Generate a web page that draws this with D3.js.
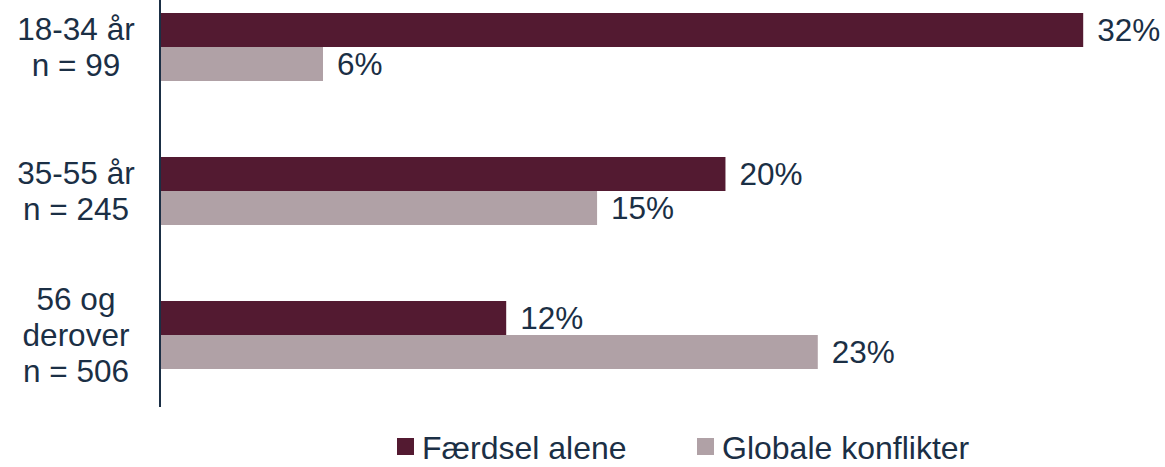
<!DOCTYPE html>
<html>
<head>
<meta charset="utf-8">
<script src="https://cdn.jsdelivr.net/npm/d3@7"></script>
<style>
  body { margin: 0; background: #fff; }
  text { font-family: "Liberation Sans", Arial, sans-serif; fill: #1b2f45; }
</style>
</head>
<body>
<div id="container"></div>
<script>
const categories = [
  ["18-34 år", "n = 99"],
  ["35-55 år", "n = 245"],
  ["56 og", "derover", "n = 506"]
]
const seriesNames = ["Færdsel alene", "Globale konflikter"]
const faerdsel = [32.0, 19.6, 12.0]
const globale = [5.65, 15.15, 22.8]
const colors = ["#531a31", "#b0a1a6"]

const w = 1165
const h = 467
const fs = 31.5

const svg = d3.select("#container")
  .append("svg")
  .attr("width", w)
  .attr("height", h)

const keys = categories.map((c, i) => "c" + i)

const y = d3.scaleBand()
  .domain(keys)
  .range([-25, 407])
  .paddingInner(76 / 144)
  .paddingOuter(38 / 144)

const ySub = d3.scaleBand()
  .domain(seriesNames)
  .range([0, y.bandwidth()])

const x = d3.scaleLinear()
  .domain([0, 40])
  .range([160, 160 + 40 * 28.85])

const rows = []
keys.forEach((k, i) => {
  rows.push({ cat: k, s: seriesNames[0], v: faerdsel[i], c: colors[0] })
  rows.push({ cat: k, s: seriesNames[1], v: globale[i], c: colors[1] })
})

svg.selectAll("rect.bar")
  .data(rows)
  .enter()
  .append("rect")
  .attr("class", "bar")
  .attr("x", x(0))
  .attr("y", d => y(d.cat) + ySub(d.s))
  .attr("width", d => x(d.v) - x(0))
  .attr("height", ySub.bandwidth())
  .attr("fill", d => d.c)

svg.selectAll("text.val")
  .data(rows)
  .enter()
  .append("text")
  .attr("class", "val")
  .attr("x", d => x(d.v) + 14)
  .attr("y", d => y(d.cat) + ySub(d.s) + ySub.bandwidth() / 2)
  .attr("dy", "0.36em")
  .attr("font-size", fs)
  .text(d => Math.round(d.v) + "%")

// y axis line
svg.append("line")
  .attr("x1", x(0)).attr("x2", x(0))
  .attr("y1", 0).attr("y2", 407)
  .attr("stroke", "#1b2f45")
  .attr("stroke-width", 2)

// category labels
keys.forEach((k, i) => {
  const lines = categories[i]
  const cy = y(k) + y.bandwidth() / 2
  const lh = 36
  const t = svg.append("text")
    .attr("text-anchor", "middle")
    .attr("font-size", fs)
  lines.forEach((l, j) => {
    t.append("tspan")
      .attr("x", 76)
      .attr("y", cy + (j - (lines.length - 1) / 2) * lh)
      .attr("dy", "0.36em")
      .text(l)
  })
})

// legend
const legendX = [397, 697]
seriesNames.forEach((s, i) => {
  svg.append("rect")
    .attr("x", legendX[i])
    .attr("y", 438)
    .attr("width", 17)
    .attr("height", 17)
    .attr("fill", colors[i])
  svg.append("text")
    .attr("x", legendX[i] + 25)
    .attr("y", 447)
    .attr("dy", "0.36em")
    .attr("font-size", 32)
    .text(s)
})
</script>
</body>
</html>
